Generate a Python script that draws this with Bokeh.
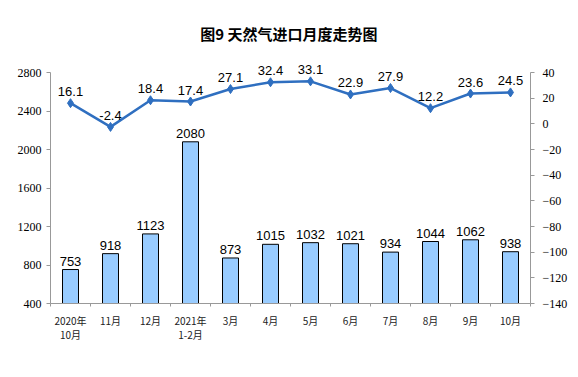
from bokeh.plotting import figure
from bokeh.models import (Range1d, LinearAxis, FixedTicker, ColumnDataSource, Legend, LegendItem, Title)
from bokeh.core.properties import value
from bokeh.embed import file_html
from bokeh.resources import INLINE

categories = ["2020年\n10月", "11月", "12月", "2021年\n1-2月", "3月", "4月", "5月", "6月", "7月", "8月", "9月", "10月"]
imports = [753, 918, 1123, 2080, 873, 1015, 1032, 1021, 934, 1044, 1062, 938]
growth = [16.1, -2.4, 18.4, 17.4, 27.1, 32.4, 33.1, 22.9, 27.9, 12.2, 23.6, 24.5]
left_ticks = [400, 800, 1200, 1600, 2000, 2400, 2800]
right_ticks = [40, 20, 0, -20, -40, -60, -80, -100, -120, -140]
Y_MIN, Y_MAX = 400, 2800
R_MIN, R_MAX = -140, 40

# layout: axis part of the frame is 231px tall, extra headroom above it for labels
AXIS_PX = 231
PAD_PX = 16
y_top = Y_MAX + PAD_PX * (Y_MAX - Y_MIN) / AXIS_PX
r_top = R_MAX + PAD_PX * (R_MAX - R_MIN) / AXIS_PX

xs = [i + 0.5 for i in range(len(categories))]
src = ColumnDataSource(dict(x=xs, imp=imports, g=growth, bottom=[Y_MIN] * len(xs),
                            imp_lbl=[str(v) for v in imports], g_lbl=[str(v) for v in growth]))

BLUE = "#2F6FC0"
p = figure(frame_width=480, frame_height=AXIS_PX + PAD_PX, output_backend="svg", toolbar_location=None,
           x_range=Range1d(0, len(categories)), y_range=Range1d(Y_MIN, y_top),
           min_border_left=50, min_border_right=48, min_border_top=72 - PAD_PX, min_border_bottom=10)
p.outline_line_color = None
p.xgrid.visible = False
p.ygrid.visible = False
p.background_fill_color = "white"

t = Title(text="图9  天然气进口月度走势图", align="center", text_font="Noto Sans CJK SC",
          text_font_size="15px", text_font_style="bold", text_color="#000000", standoff=26)
p.add_layout(t, "above")

p.extra_y_ranges = {"right": Range1d(R_MIN, r_top)}

# x axis
xa = p.xaxis[0]
xa.ticker = FixedTicker(ticks=xs, minor_ticks=list(range(len(categories) + 1)))
xa.major_label_overrides = {x: c for x, c in zip(xs, categories)}
xa.major_tick_line_color = None
xa.minor_tick_line_color = "#999999"
xa.minor_tick_out = 3
xa.minor_tick_in = 0
xa.axis_line_color = "#999999"
xa.major_label_text_font = "Noto Sans CJK SC"
xa.major_label_text_font_size = "10px"
xa.major_label_text_line_height = 0.95
xa.major_label_text_color = "#222222"
xa.major_label_standoff = 3

ya = p.yaxis[0]
ya.ticker = FixedTicker(ticks=left_ticks)
ya.bounds = (Y_MIN, Y_MAX)
ya.axis_line_color = "#999999"
ya.major_tick_line_color = "#999999"
ya.major_tick_out = 4
ya.major_tick_in = 0
ya.minor_tick_line_color = None
ya.major_label_text_font = "Liberation Serif"
ya.major_label_text_font_size = "12px"
ya.major_label_text_color = "#000000"

ra = LinearAxis(y_range_name="right", ticker=FixedTicker(ticks=right_ticks), bounds=(R_MIN, R_MAX))
ra.axis_line_color = "#999999"
ra.major_tick_line_color = "#999999"
ra.major_tick_out = 4
ra.major_tick_in = 0
ra.minor_tick_line_color = None
ra.major_label_text_font = "Liberation Serif"
ra.major_label_text_font_size = "12px"
ra.major_label_text_color = "#000000"
ra.major_label_standoff = 8
p.add_layout(ra, "right")

bars = p.vbar(x="x", top="imp", bottom="bottom", width=0.4, source=src,
              fill_color="#99CCFF", line_color="#000000", line_width=1)
p.text(x="x", y="imp", text="imp_lbl", source=src, text_align="center", text_baseline="bottom",
       y_offset=-4, text_font=value("Liberation Sans"), text_font_size="13px", text_color="#000000")

ln = p.line(x="x", y="g", source=src, y_range_name="right", line_color=BLUE, line_width=2.5)
mk = p.scatter(x="x", y="g", source=src, y_range_name="right", marker="diamond", size=9,
               fill_color=BLUE, line_color=BLUE)
p.text(x="x", y="g", text="g_lbl", source=src, y_range_name="right", text_align="center",
       text_baseline="bottom", y_offset=-7, text_font=value("Liberation Sans"),
       text_font_size="13px", text_color="#000000")

legend = Legend(items=[LegendItem(label="当月进口量（万吨）", renderers=[bars]),
                       LegendItem(label="当月增速（%）", renderers=[ln, mk])],
                orientation="horizontal", location="center", spacing=78,
                label_text_font="Noto Sans CJK SC", label_text_font_size="10.5px",
                label_text_line_height=1.0,
                glyph_width=28, glyph_height=9, border_line_color=None,
                background_fill_alpha=0,
                padding=0, margin=0, label_standoff=3, label_height=10)
p.add_layout(legend, "below")

open("out.html", "w").write(file_html(p, INLINE))
